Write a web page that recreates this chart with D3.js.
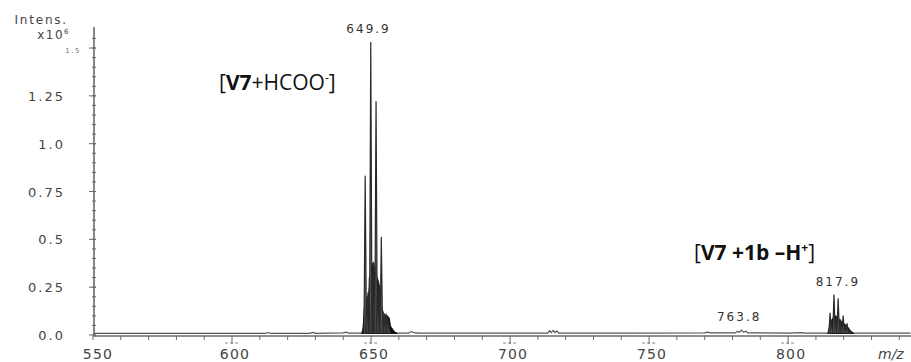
<!DOCTYPE html>
<html><head><meta charset="utf-8">
<script src="https://cdn.jsdelivr.net/npm/d3@7"></script>
<style>
html,body{margin:0;padding:0;background:#fff;}
svg{display:block;}
</style></head>
<body>
<svg id="chart" width="911" height="362"></svg>
<script>
// ---- data (m/z, intensity x10^6) ----
const mzTicks = [550, 600, 650, 700, 750, 800];
const mzMinorTicks = d3.range(550, 845, 10);
const intensityTicks = [0, 0.25, 0.5, 0.75, 1.0, 1.25, 1.5];
const intensityTickLabels = ["0.0", "0.25", "0.5", "0.75", "1.0", "1.25", "1.5"];
const intensityMinorTicks = d3.range(0, 1.6, 0.05);

// baseline trace with small bumps
const profile = [
  [550.5,0.008],[580,0.008],[612,0.009],[613,0.013],[614,0.009],[628,0.009],[629,0.014],[630,0.009],
  [640,0.011],[641,0.015],[642,0.01],[646,0.01],[660,0.01],[663.5,0.01],[664.5,0.018],[665.5,0.012],[667,0.01],
  [700,0.01],[713.5,0.01],[714.2,0.022],[714.8,0.012],[715.5,0.024],[716.1,0.012],[716.8,0.022],[717.5,0.01],
  [745,0.01],[770,0.011],[771,0.015],[772,0.011],[781,0.011],[781.8,0.02],[782.5,0.014],[783.2,0.026],
  [784,0.014],[784.8,0.02],[785.6,0.011],[800,0.01],[805,0.012],[806,0.01],[812,0.01],[844,0.01]
];

// dense (unresolved) parts of the two isotope clusters
const envelopeA = [
  [646.6,0.01],[647.1,0.04],[647.6,0.14],[648.3,0.19],[648.9,0.2],[649.6,0.27],[650.3,0.36],[650.9,0.38],
  [651.4,0.33],[652.2,0.3],[652.9,0.26],[653.4,0.16],[654.0,0.14],[654.7,0.1],[655.6,0.1],[656.5,0.09],
  [657.0,0.05],[657.6,0.035],[658.6,0.015],[659.4,0.01]
];
const envelopeB = [
  [814.3,0.01],[814.8,0.04],[815.4,0.07],[816.2,0.09],[817.0,0.1],[818.0,0.09],[819.0,0.075],[820.0,0.06],
  [821.0,0.05],[821.8,0.035],[822.6,0.02],[823.6,0.01]
];

// resolved isotope lines
const sticks = [
  [647.9,0.83],[648.5,0.2],[648.9,0.22],[649.4,0.3],[649.9,1.53],[650.4,0.32],[650.9,0.38],[651.3,0.32],
  [651.8,1.22],[652.3,0.24],[652.9,0.26],[653.3,0.17],[653.7,0.51],[654.3,0.12],[654.9,0.11],[655.4,0.11],
  [655.9,0.1],[656.4,0.06],
  [815.1,0.115],[815.7,0.07],[816.5,0.21],[817.2,0.09],[818.0,0.19],[818.7,0.08],[819.3,0.07],[819.8,0.1],
  [820.5,0.05],[821.2,0.06],[822.0,0.03]
];

const peakLabelText = ["649.9", "763.8", "817.9"];
const peakLabelMz = [649.1, 782.4, 817.9];
const peakLabelHeight = [1.53, 0.026, 0.21];

// ---- scales ----
const svg = d3.select("#chart");
const x = d3.scaleLinear().domain([550, 844.2]).range([93, 911]);
const y = d3.scaleLinear().domain([0, 1.61]).range([335, 27]);

const gray = "#6a6a6a";
const tickFont = "'DejaVu Sans', sans-serif";

// ---- y axis ----
svg.append("line").attr("x1", x(550)+1).attr("x2", x(550)+1).attr("y1", 27).attr("y2", y(0)+1)
  .attr("stroke", gray).attr("stroke-width", 1.6);
svg.append("g").selectAll("line").data(intensityMinorTicks).join("line")
  .attr("x1", x(550)-1).attr("x2", x(550)+3)
  .attr("y1", d => y(d)).attr("y2", d => y(d)).attr("stroke", gray).attr("stroke-width", 1);
svg.append("g").selectAll("line").data(intensityTicks).join("line")
  .attr("x1", x(550)-4).attr("x2", x(550)+3)
  .attr("y1", d => y(d)).attr("y2", d => y(d)).attr("stroke", gray).attr("stroke-width", 1);
svg.append("g").selectAll("text").data(intensityTicks).join("text")
  .attr("x", (d,i) => i === 6 ? 81 : 65)
  .attr("y", d => y(d) + 5)
  .attr("text-anchor", "end")
  .attr("font-family", tickFont)
  .attr("font-size", (d,i) => i === 6 ? 7 : 13)
  .attr("letter-spacing", (d,i) => i === 6 ? 1.5 : 2)
  .attr("fill", (d,i) => i === 6 ? "#777" : "#444")
  .text((d,i) => intensityTickLabels[i]);

svg.append("text").attr("x", 68).attr("y", 24).attr("text-anchor", "end")
  .attr("font-family", tickFont).attr("font-size", 12).attr("letter-spacing", 1.8).attr("fill", "#444")
  .text("Intens.");
const xt = svg.append("text").attr("x", 70).attr("y", 39).attr("text-anchor", "end")
  .attr("font-family", tickFont).attr("font-size", 12).attr("letter-spacing", 1.5).attr("fill", "#444");
xt.append("tspan").text("x10");
xt.append("tspan").attr("font-size", 7).attr("dy", -5).text("6");

// ---- x axis ----
svg.append("line").attr("x1", x(550)).attr("x2", 911).attr("y1", y(0)+1).attr("y2", y(0)+1)
  .attr("stroke", gray).attr("stroke-width", 1.6);
svg.append("g").selectAll("line").data(mzMinorTicks).join("line")
  .attr("x1", d => x(d)).attr("x2", d => x(d)).attr("y1", y(0)+1).attr("y2", y(0)+5)
  .attr("stroke", gray).attr("stroke-width", 1);
const major = svg.append("g").selectAll("g").data(mzTicks.slice(1)).join("g");
major.append("line").attr("x1", d => x(d)-7).attr("x2", d => x(d)+7)
  .attr("y1", y(0)+8).attr("y2", y(0)+8).attr("stroke", "#888").attr("stroke-width", 1)
  .attr("stroke-dasharray", "3,2");
major.append("line").attr("x1", d => x(d)).attr("x2", d => x(d)).attr("y1", y(0)+5).attr("y2", y(0)+9)
  .attr("stroke", gray).attr("stroke-width", 1);
svg.append("g").selectAll("text").data(mzTicks).join("text")
  .attr("x", d => x(d) + (d === 550 ? 5 : 3))
  .attr("y", 359)
  .attr("text-anchor", "middle")
  .attr("font-family", tickFont).attr("font-size", 14).attr("letter-spacing", 1.2).attr("fill", "#444")
  .text(d => d);
svg.append("text").attr("x", 878).attr("y", 359)
  .attr("font-family", tickFont).attr("font-size", 14).attr("font-style", "italic").attr("fill", "#444")
  .text("m/z");

// ---- spectrum ----
const line = d3.line().x(d => x(d[0])).y(d => y(d[1]));
svg.append("path").datum(profile).attr("d", line)
  .attr("fill", "none").attr("stroke", "#555").attr("stroke-width", 1.2);

const area = d3.area().x(d => x(d[0])).y0(y(0.008)).y1(d => y(d[1])).curve(d3.curveMonotoneX);
[envelopeA, envelopeB].forEach(env => {
  svg.append("path").datum(env).attr("d", area).attr("fill", "#0d0d0d")
    .attr("stroke", "#1a1a1a").attr("stroke-width", 1);
});

svg.append("g").selectAll("path").data(sticks).join("path")
  .attr("d", d => line([[d[0]-0.45, 0.01], [d[0], d[1]], [d[0]+0.45, 0.01]]))
  .attr("fill", "#666").attr("stroke", "#2a2a2a").attr("stroke-width", 1.2)
  .attr("stroke-linejoin", "round");

// ---- peak labels ----
svg.append("g").selectAll("text").data(peakLabelText).join("text")
  .attr("x", (d,i) => x(peakLabelMz[i]))
  .attr("y", (d,i) => y(peakLabelHeight[i]) - 9)
  .attr("text-anchor", "middle")
  .attr("font-family", tickFont).attr("font-size", 12).attr("letter-spacing", 2).attr("fill", "#333")
  .text(d => d);

// ---- annotations ----
const annFont = "'Open Sans', sans-serif";
const a1 = svg.append("text").attr("x", 219).attr("y", 90)
  .attr("font-family", annFont).attr("font-size", 21).attr("fill", "#111");
a1.append("tspan").text("[");
a1.append("tspan").attr("font-weight", "bold").text("V7");
a1.append("tspan").text("+HCOO");
a1.append("tspan").attr("font-size", 12).attr("dy", -8).text("-");
a1.append("tspan").attr("dy", 8).text("]");

const a2 = svg.append("text").attr("x", 694).attr("y", 260)
  .attr("font-family", annFont).attr("font-size", 21).attr("fill", "#111");
a2.append("tspan").text("[");
a2.append("tspan").attr("font-weight", "bold").text("V7 +1b –H");
a2.append("tspan").attr("font-weight", "bold").attr("font-size", 12).attr("dy", -8).text("+");
a2.append("tspan").attr("dy", 8).text("]");
</script>
</body></html>
